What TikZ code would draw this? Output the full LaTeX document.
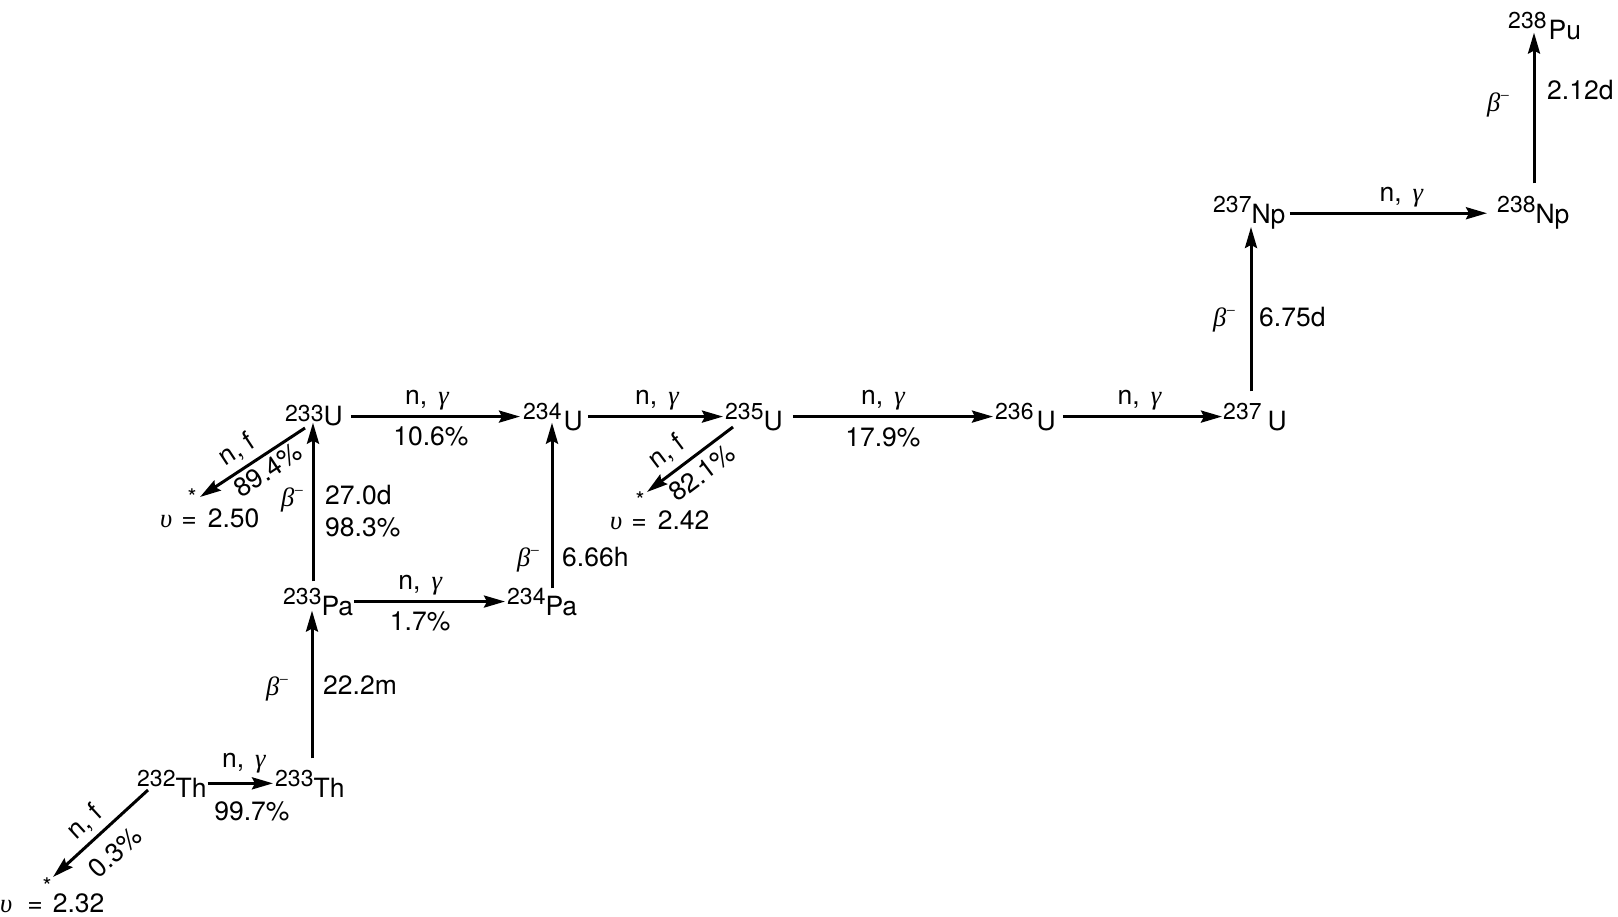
\documentclass[tikz,border=0pt]{standalone}
\usepackage{fontspec}
\setmainfont{TeX Gyre Heros}
\newfontfamily\grk{Liberation Serif}
\usetikzlibrary{arrows.meta}
\newcommand\isoA[2]{\raisebox{11pt}{\fontsize{23}{23}\selectfont #1}#2}
\newcommand\isoB[2]{\raisebox{4pt}{\fontsize{23}{23}\selectfont #1}#2}
\newcommand\gr[1]{{\grk\itshape #1}}
\newcommand\bmin{\gr{β}\raisebox{10pt}{\fontsize{17}{17}\selectfont\grk −}}
\newcommand\ngam{n,\hspace{11pt}\gr{γ}}
\begin{document}
\begin{tikzpicture}[x=1pt,y=-1pt,font=\fontsize{26.5}{30}\selectfont,
  iso/.style={inner sep=0pt,anchor=base west},
  lab/.style={inner sep=0pt},
  arr/.style={line width=3pt,-{Stealth[length=21pt,width=12pt,inset=3pt]}}]
\useasboundingbox (0,0) rectangle (1618,917);
% isotopes
\node[iso] (th232) at (137,797) {\isoA{232}{Th}};
\node[iso] (th233) at (275,797) {\isoA{233}{Th}};
\node[iso] (pa233) at (283,615) {\isoA{233}{Pa}};
\node[iso] (pa234) at (507,615) {\isoA{234}{Pa}};
\node[iso] (u233) at (285,425) {\isoB{233}{U}};
\node[iso] (u234) at (523,430) {\isoA{234}{\hspace{2pt}U}};
\node[iso] (u235) at (725,430) {\isoA{235}{U}};
\node[iso] (u236) at (995,430) {\isoA{236}{\hspace{3pt}U}};
\node[iso] (u237) at (1223,430) {\isoA{237}{\hspace{6pt}U}};
\node[iso] (np237) at (1213,224) {\isoA{237}{Np}};
\node[iso] (np238) at (1497,224) {\isoA{238}{Np}};
\node[iso] (pu238) at (1508,40) {\isoA{238}{\hspace{2pt}Pu}};
% horizontal (n, gamma) arrows
\draw[arr,shorten <=1pt,shorten >=2pt] (th232.east) -- (th232.east -| th233.west)
  node[lab,midway,anchor=base,yshift=16pt,xshift=3pt] {\ngam}
  node[lab,midway,anchor=base,yshift=-37pt,xshift=11pt] {99.7\%};
\draw[arr,shorten <=1pt,shorten >=2pt] (pa233.east) -- (pa233.east -| pa234.west)
  node[lab,midway,anchor=base,yshift=12pt,xshift=-10pt] {\ngam}
  node[lab,midway,anchor=base,yshift=-29pt,xshift=-10pt] {1.7\%};
\draw[arr,shorten <=8pt,shorten >=3pt] (u234.west -| u233.east) -- (u234.west)
  node[lab,midway,anchor=base,yshift=12pt,xshift=-6pt] {\ngam}
  node[lab,midway,anchor=base,yshift=-29pt,xshift=-2pt] {10.6\%};
\draw[arr,shorten <=5pt,shorten >=2pt] (u234.east) -- (u234.east -| u235.west)
  node[lab,midway,anchor=base,yshift=12pt,xshift=3pt] {\ngam};
\draw[arr,shorten <=10pt,shorten >=2pt] (u235.east) -- (u235.east -| u236.west)
  node[lab,midway,anchor=base,yshift=12pt,xshift=-6pt] {\ngam}
  node[lab,midway,anchor=base,yshift=-30pt,xshift=-6pt] {17.9\%};
\draw[arr,shorten <=7pt,shorten >=1pt] (u236.east) -- (u236.east -| u237.west)
  node[lab,midway,anchor=base,yshift=12pt,xshift=0pt] {\ngam};
\draw[arr,shorten <=4pt,shorten >=10pt] (np237.east) -- (np237.east -| np238.west)
  node[lab,midway,anchor=base,yshift=12pt,xshift=10pt] {\ngam};
% vertical (beta) arrows
\draw[arr] ([xshift=37pt,yshift=11pt]th233.north west) -- ([xshift=37pt,yshift=5pt]th233.north west |- pa233.south);
\draw[arr] ([xshift=28pt,yshift=6pt]u233.south west |- pa233.north) -- ([xshift=28pt,yshift=3pt]u233.south west);
\draw[arr] ([xshift=29pt,yshift=-1pt]u234.south west |- pa234.north) -- ([xshift=29pt,yshift=8pt]u234.south west);
\draw[arr] ([xshift=28pt,yshift=11pt]u237.north west) -- ([xshift=28pt,yshift=3pt]u237.north west |- np237.south);
\draw[arr] ([xshift=37pt,yshift=13pt]np238.north west) -- ([xshift=37pt,yshift=8pt]np238.north west |- pu238.south);
% beta labels
\node[lab,anchor=east] (b1) at (289,689) {\bmin};
\node[lab,anchor=west] (t1) at (323,685) {22.2m};
\node[lab,anchor=east] (b2) at (304,500) {\bmin};
\node[lab,anchor=west] (t2a) at (325,495) {27.0d};
\node[lab,anchor=west] (t2b) at (325,527) {98.3\%};
\node[lab,anchor=east] (b3) at (540,560) {\bmin};
\node[lab,anchor=west] (t3) at (562,557) {6.66h};
\node[lab,anchor=east] (b4) at (1236,320) {\bmin};
\node[lab,anchor=west] (t4) at (1259,317) {6.75d};
\node[lab,anchor=east] (b5) at (1510,105) {\bmin};
\node[lab,anchor=west] (t5) at (1547,90) {2.12d};
% fission branches
\coordinate (e1) at (53,877);
\coordinate (e2) at (200,497);
\coordinate (e3) at (647,492);
\draw[arr] ([shift={(11,-7)}]th232.base west) -- (e1);
\draw[arr] ([shift={(20,3)}]u233.base west) -- (e2);
\draw[arr] ([shift={(8,-3)}]u235.base west) -- (e3);
\node[lab,rotate=42.5] (f1a) at (85,822) {n, f};
\node[lab,rotate=42.5] (f1b) at (115,852) {0.3\%};
\node[lab,rotate=33.3] (f2a) at (237,450) {n, f};
\node[lab,rotate=33.3] (f2b) at (268,470) {89.4\%};
\node[lab,rotate=37] (f3a) at (667,452) {n, f};
\node[lab,rotate=37] (f3b) at (702,473) {82.1\%};
\node[lab,font=\fontsize{23}{23}\selectfont] (s1) at (47,886) {*};
\node[lab,font=\fontsize{23}{23}\selectfont] (s2) at (192,497) {*};
\node[lab,font=\fontsize{23}{23}\selectfont] (s3) at (640,500) {*};
\node[lab,anchor=base west] (nu1) at (0,912) {\gr{υ}\hspace{15pt}=\hspace{10pt}2.32};
\node[lab,anchor=base west] (nu2) at (160,527) {\gr{υ}\hspace{9pt}=\hspace{11pt}2.50};
\node[lab,anchor=base west] (nu3) at (610,529) {\gr{υ}\hspace{9pt}=\hspace{11pt}2.42};
\end{tikzpicture}
\end{document}
